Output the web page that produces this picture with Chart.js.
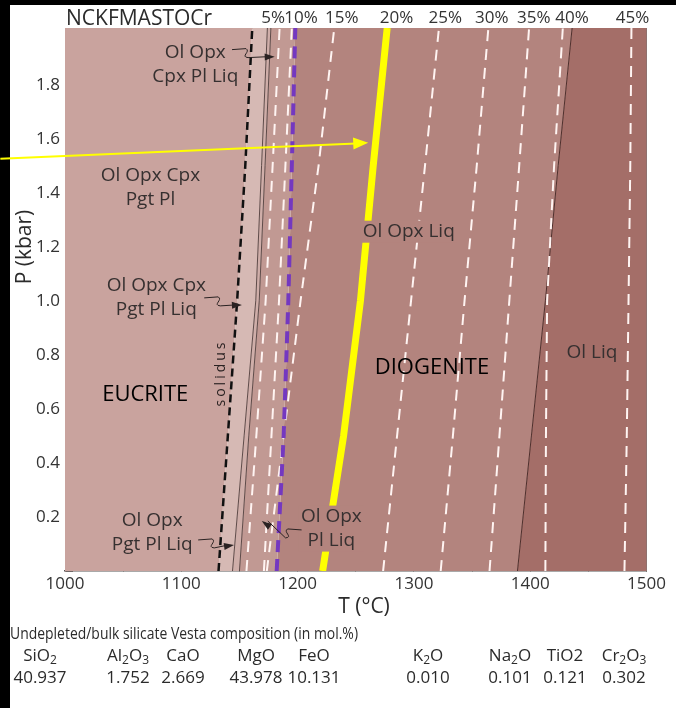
<!DOCTYPE html>
<html>
<head>
<meta charset="utf-8">
<script src="https://cdn.jsdelivr.net/npm/chart.js@4.4.1/dist/chart.umd.min.js"></script>
<style>
  html, body { margin: 0; padding: 0; background: #fff; }
</style>
</head>
<body>
<canvas id="vestaChart" width="676" height="708"></canvas>
<script>
const FONT = '"Open Sans", "DejaVu Sans", sans-serif';

// pressure levels (kbar) at which every boundary below is read
const pressureKbar = [0, 0.5, 1.0, 1.5, 2.01];

// phase boundaries, T (°C) at each pressure level
const solidusT = [1132, 1140, 1148, 1155, 1161];
const cpxOutT  = [1144, 1154, 1164, 1169, 1174];
const pgtOutT  = [1150, 1158, 1167, 1172, 1177];
const plOutT   = [1182, 1188, 1192, 1195, 1198];
const opxOutT  = [1389, 1401, 1413, 1424, 1436];

// melt fraction isopleths, T (°C) at each pressure level
const melt5T  = [1156, 1164.5, 1172.5, 1178.5, 1184.5];
const melt10T = [1171, 1177.5, 1184, 1189.5, 1195];
const melt15T = [1173.5, 1188, 1202.5, 1218, 1231.5];
const melt20T = [1221.5, 1239.5, 1254, 1265, 1277];
const melt25T = [1273.5, 1285.5, 1297.5, 1309.5, 1321.5];
const melt30T = [1323, 1333.5, 1343.5, 1354, 1364];
const melt35T = [1365, 1373.5, 1382, 1390.5, 1399];
const melt40T = [1413, 1413.5, 1414.5, 1420.5, 1428];
const melt45T = [1481, 1483, 1484.5, 1486, 1487];

// labels along the top edge
const meltLabels = ['5%', '10%', '15%', '20%', '25%', '30%', '35%', '40%', '45%'];
const meltLabelT = [1179, 1203, 1238, 1285, 1327, 1367, 1403, 1436, 1488];

// bulk composition table
const oxideNames = ['Si O_2', 'Al_2O_3', 'CaO', 'MgO', 'FeO', 'K_2O', 'Na_2O', 'TiO2', 'Cr_2O_3'];
const oxideMol = ['40.937', '1.752', '2.669', '43.978', '10.131', '0.010', '0.101', '0.121', '0.302'];

// ---- helpers ----
const pts = arr => arr.map((t, i) => ({ x: t, y: pressureKbar[i] }));
const flat = v => pressureKbar.map(() => v);

function band(leftT, rightT) {
    const left = pts(leftT);
    const right = pts(rightT).reverse();
    return [
        { x: 900, y: -0.5 },
        { x: left[0].x, y: -0.2 },
        ...left,
        { x: left[left.length - 1].x, y: 2.4 },
        { x: right[0].x, y: 2.4 },
        ...right,
        { x: right[right.length - 1].x, y: -0.2 },
        { x: 1600, y: -0.5 }
    ];
}

const fieldColors = {
    eucrite: '#c9a39e',
    subsolidus: '#d6b9b4',
    pgt: '#cfaea9',
    pl: '#c19993',
    opx: '#b3847e',
    ol: '#a46e68'
};

function region(data, color) {
    return {
        data, showLine: true, fill: 'shape', backgroundColor: color,
        borderColor: 'transparent', borderWidth: 0, pointRadius: 0, order: 9
    };
}
function curve(arr, color, width, dash, order) {
    return {
        data: pts(arr), showLine: true, fill: false, borderColor: color,
        borderWidth: width, borderDash: dash || [], pointRadius: 0, order: order
    };
}

const whiteDash = [11, 8];

const datasets = [
    region(band(flat(900), solidusT), fieldColors.eucrite),
    region(band(solidusT, cpxOutT), fieldColors.subsolidus),
    region(band(cpxOutT, pgtOutT), fieldColors.pgt),
    region(band(pgtOutT, plOutT), fieldColors.pl),
    region(band(plOutT, opxOutT), fieldColors.opx),
    region(band(opxOutT, flat(1600)), fieldColors.ol),

    curve(cpxOutT, '#5e4a48', 1, null, 4),
    curve(pgtOutT, '#5e4a48', 1, null, 4),
    curve(opxOutT, '#4e2e2b', 1, null, 4),

    curve(melt5T, '#fff4f2', 2, whiteDash, 3),
    curve(melt10T, '#fff4f2', 2, whiteDash, 3),
    curve(melt15T, '#fff4f2', 2, whiteDash, 3),
    curve(melt25T, '#fff4f2', 2, whiteDash, 3),
    curve(melt30T, '#fff4f2', 2, whiteDash, 3),
    curve(melt35T, '#fff4f2', 2, whiteDash, 3),
    curve(melt40T, '#fff4f2', 2, whiteDash, 3),
    curve(melt45T, '#fff4f2', 2, whiteDash, 3),

    curve(solidusT, '#111', 2.5, [8, 5], 2),
    curve(plOutT, '#7438c0', 4, [12, 7], 1),
    curve(melt20T, '#ffff00', 7, null, 0)
];

// ---- annotations ----
const fieldLabels = [
    { lines: ['Ol Opx', 'Cpx Pl Liq'], t: 1112, p: 1.876 },
    { lines: ['Ol Opx Cpx', 'Pgt Pl'], t: 1073.5, p: 1.419 },
    { lines: ['Ol Opx Cpx', 'Pgt Pl Liq'], t: 1078.5, p: 1.013 },
    { lines: ['Ol Opx', 'Pgt Pl Liq'], t: 1075, p: 0.143 },
    { lines: ['Ol Opx', 'Pl Liq'], t: 1229, p: 0.157, bg: fieldColors.opx },
    { lines: ['Ol Opx Liq'], t: 1295.5, p: 1.256, bg: fieldColors.opx },
    { lines: ['Ol Liq'], t: 1453, p: 0.807 }
];
const rockLabels = [
    { text: 'EUCRITE', t: 1069, p: 0.652 },
    { text: 'DIOGENITE', t: 1315.5, p: 0.752 }
];
const pointers = [
    { from: [1143.6, 1.930], to: [1180.3, 1.904] },
    { from: [1119.7, 1.011], to: [1152.1, 0.985] },
    { from: [1114.5, 0.115], to: [1145.3, 0.096] },
    { from: [1203.4, 0.152], to: [1169.2, 0.185] }
];

function arrowHead(ctx, x0, y0, x1, y1, len, half) {
    const a = Math.atan2(y1 - y0, x1 - x0);
    ctx.beginPath();
    ctx.moveTo(x1, y1);
    ctx.lineTo(x1 - len * Math.cos(a) + half * Math.sin(a), y1 - len * Math.sin(a) - half * Math.cos(a));
    ctx.lineTo(x1 - len * Math.cos(a) - half * Math.sin(a), y1 - len * Math.sin(a) + half * Math.cos(a));
    ctx.closePath();
    ctx.fill();
}

function drawChem(ctx, name, cx, y, size) {
    const parts = [];
    for (let i = 0; i < name.length; i++) {
        if (name[i] === '_') { parts.push({ s: name[i + 1], sub: true }); i++; }
        else if (name[i] !== ' ') parts.push({ s: name[i], sub: false });
    }
    const big = size + 'px ' + FONT;
    const small = Math.round(size * 0.68) + 'px ' + FONT;
    let w = 0;
    parts.forEach(p => { ctx.font = p.sub ? small : big; p.w = ctx.measureText(p.s).width; w += p.w; });
    let x = cx - w / 2;
    parts.forEach(p => {
        ctx.font = p.sub ? small : big;
        ctx.fillText(p.s, x, p.sub ? y + size * 0.2 : y);
        x += p.w;
    });
}

// draw left-aligned text squeezed to a given width
function fitText(ctx, text, x, y, width) {
    const w = ctx.measureText(text).width;
    ctx.save();
    ctx.translate(x, y);
    ctx.scale(Math.min(1, width / w), 1);
    ctx.fillText(text, 0, 0);
    ctx.restore();
}

const decor = {
    id: 'decor',
    beforeDraw(chart) {
        const ctx = chart.ctx;
        ctx.save();
        ctx.fillStyle = '#fff';
        ctx.fillRect(0, 0, chart.width, chart.height);
        ctx.fillStyle = '#000';
        ctx.fillRect(0, 0, chart.width, 5);
        ctx.fillRect(0, 0, 10, chart.height);
        ctx.restore();
    },
    afterDatasetsDraw(chart) {
        const ctx = chart.ctx;
        const xs = chart.scales.x, ys = chart.scales.y;
        const lh = 24;
        ctx.save();
        ctx.textAlign = 'center';
        ctx.textBaseline = 'middle';
        ctx.font = '19px ' + FONT;
        fieldLabels.forEach(l => {
            const cx = xs.getPixelForValue(l.t);
            const cy = ys.getPixelForValue(l.p);
            const top = cy - (l.lines.length - 1) * lh / 2;
            if (l.bg) {
                const w = Math.max(...l.lines.map(s => ctx.measureText(s).width)) + 4;
                const h = l.lines.length * lh - 2;
                ctx.fillStyle = l.bg;
                ctx.fillRect(cx - w / 2, cy - h / 2, w, h);
            }
            ctx.fillStyle = '#363030';
            l.lines.forEach((s, i) => ctx.fillText(s, cx, top + i * lh));
        });
        ctx.font = '22px ' + FONT;
        ctx.fillStyle = '#000';
        rockLabels.forEach(l => ctx.fillText(l.text, xs.getPixelForValue(l.t), ys.getPixelForValue(l.p)));

        // rotated "solidus" tag
        ctx.save();
        ctx.translate(xs.getPixelForValue(1134.2), ys.getPixelForValue(0.733));
        ctx.rotate(-Math.PI / 2);
        ctx.font = '14px ' + FONT;
        ctx.fillStyle = '#2a2222';
        const word = 'solidus', gap = 3;
        let tw = 0;
        const cw = [...word].map(c => ctx.measureText(c).width);
        cw.forEach(w => tw += w + gap);
        let x = -tw / 2;
        ctx.textAlign = 'left';
        [...word].forEach((c, i) => { ctx.fillText(c, x, 0); x += cw[i] + gap; });
        ctx.restore();

        // small curly pointers
        ctx.strokeStyle = '#2a2222';
        ctx.fillStyle = '#2a2222';
        ctx.lineWidth = 1;
        pointers.forEach(a => {
            const x0 = xs.getPixelForValue(a.from[0]), y0 = ys.getPixelForValue(a.from[1]);
            const x1 = xs.getPixelForValue(a.to[0]), y1 = ys.getPixelForValue(a.to[1]);
            const dir = Math.sign(x1 - x0);
            const mx = x0 + dir * 14;
            ctx.beginPath();
            ctx.moveTo(x0, y0);
            ctx.lineTo(mx, y0 - 1);
            ctx.bezierCurveTo(mx + dir * 5, y0 + 2, mx - dir * 6, y0 + 7, mx + dir * 2, y0 + 8);
            ctx.lineTo(x1 - dir * 6, y1);
            ctx.stroke();
            arrowHead(ctx, mx + dir * 2, y0 + 8, x1, y1, 10, 3.5);
        });
        ctx.restore();
    },
    afterDraw(chart) {
        const ctx = chart.ctx;
        const xs = chart.scales.x, ys = chart.scales.y;
        ctx.save();
        ctx.fillStyle = '#2b2b2b';
        ctx.textBaseline = 'alphabetic';
        ctx.textAlign = 'left';
        ctx.font = '21px ' + FONT;
        ctx.fillText('NCKFMASTOCr', 66, 25);

        ctx.textAlign = 'center';
        ctx.textBaseline = 'middle';
        ctx.font = '21px ' + FONT;
        ctx.fillText('T (°C)', 364, 607);
        ctx.save();
        ctx.translate(25, 247);
        ctx.rotate(-Math.PI / 2);
        ctx.fillText('P (kbar)', 0, 0);
        ctx.restore();

        // composition footer
        ctx.textAlign = 'left';
        ctx.textBaseline = 'alphabetic';
        ctx.font = '17px ' + FONT;
        fitText(ctx, 'Undepleted/bulk silicate Vesta composition (in mol.%)', 10, 639, 348);
        const colX = [40, 128, 183, 256, 314, 428, 510, 565, 624];
        oxideNames.forEach((n, i) => drawChem(ctx, n, colX[i], 661, 17));
        ctx.textAlign = 'center';
        ctx.font = '17px ' + FONT;
        oxideMol.forEach((v, i) => ctx.fillText(v, colX[i], 683));
        ctx.textAlign = 'left';

        // yellow pointer to the 20% isopleth
        const ax0 = xs.getPixelForValue(944.4), ay0 = ys.getPixelForValue(1.526);
        const ax1 = xs.getPixelForValue(1260.7), ay1 = ys.getPixelForValue(1.585);
        ctx.strokeStyle = '#ffff00';
        ctx.fillStyle = '#ffff00';
        ctx.lineWidth = 2;
        ctx.beginPath();
        ctx.moveTo(ax0, ay0);
        ctx.lineTo(ax1 - 12, ay1 + 0.6);
        ctx.stroke();
        arrowHead(ctx, ax0, ay0, ax1, ay1, 15, 6);
        ctx.restore();
    }
};

const tickFont = { family: FONT, size: 17 };

new Chart(document.getElementById('vestaChart'), {
    type: 'scatter',
    data: { datasets },
    options: {
        responsive: false,
        devicePixelRatio: 1,
        animation: false,
        layout: { padding: { left: 0, right: 25, top: 0, bottom: 0 } },
        plugins: { legend: { display: false }, tooltip: { enabled: false } },
        elements: { line: { tension: 0 } },
        scales: {
            x: {
                type: 'linear', position: 'bottom', min: 1000, max: 1500, z: 1,
                ticks: {
                    stepSize: 50, autoSkip: false, maxRotation: 0, padding: 10,
                    color: '#333', font: tickFont,
                    callback: v => (v % 100 === 0 ? String(v) : '')
                },
                grid: { drawOnChartArea: false, drawTicks: true, tickLength: -7, color: '#8a7a78' },
                border: { display: true, color: '#555', width: 1.5 },
                afterFit: s => { s.height = 137; }
            },
            xTop: {
                type: 'linear', position: 'top', min: 1000, max: 1500,
                afterBuildTicks: s => { s.ticks = meltLabelT.map(v => ({ value: v })); },
                ticks: {
                    autoSkip: false, maxRotation: 0, padding: 0, color: '#333', font: tickFont,
                    callback: (v, i) => meltLabels[i]
                },
                grid: { display: false, drawTicks: false },
                border: { display: true, color: '#999', width: 1 },
                afterFit: s => { s.height = 28; }
            },
            y: {
                type: 'linear', position: 'left', min: 0, max: 2.01, z: 1,
                ticks: {
                    stepSize: 0.2, autoSkip: false, padding: 13, color: '#333', font: tickFont,
                    callback: v => (v > 0.1 && v < 1.9 ? v.toFixed(1) : '')
                },
                grid: { drawOnChartArea: false, drawTicks: true, tickLength: -8, color: '#8a7a78' },
                border: { display: true, color: '#8a7a78', width: 1 },
                afterFit: s => { s.width = 65; }
            },
            yRight: {
                type: 'linear', position: 'right', min: 0, max: 2.01,
                ticks: { display: false },
                grid: { display: false },
                border: { display: true, color: '#777', width: 1 },
                afterFit: s => { s.width = 0; }
            }
        }
    },
    plugins: [decor]
});
</script>
</body>
</html>
